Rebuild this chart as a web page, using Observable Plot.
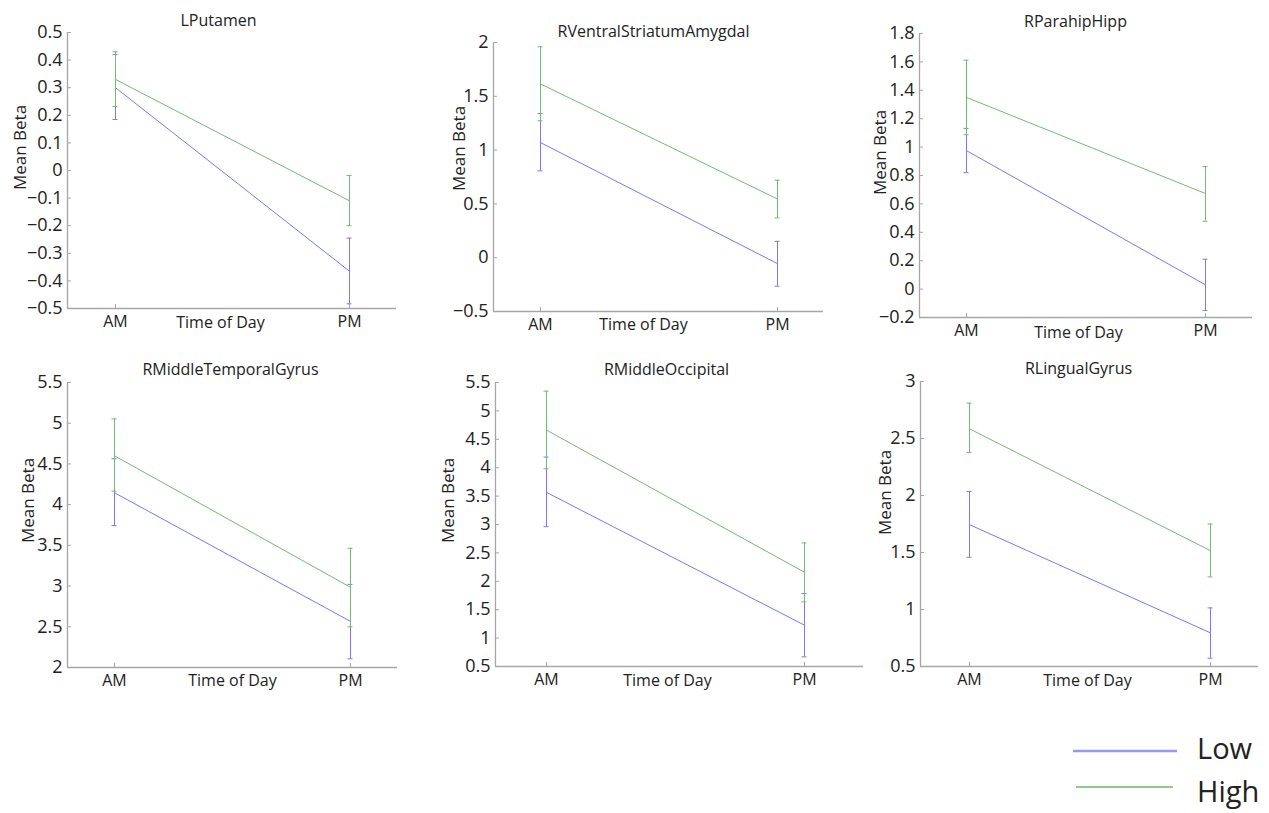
<!DOCTYPE html>
<html>
<head>
<meta charset="utf-8">
<script src="https://cdn.jsdelivr.net/npm/d3@7"></script>
<script src="https://cdn.jsdelivr.net/npm/@observablehq/plot@0.6"></script>
<style>
  html, body { margin: 0; padding: 0; background: #fff; }
  #page { position: relative; width: 1269px; height: 813px; font-family: "Open Sans", sans-serif; color: #222; overflow: hidden; }
  #page > svg, #page > figure { position: absolute; margin: 0; }
</style>
</head>
<body>
<div id="page"></div>
<script>
// ---------- data ----------
const regions = ["LPutamen", "RVentralStriatumAmygdal", "RParahipHipp", "RMiddleTemporalGyrus", "RMiddleOccipital", "RLingualGyrus"];
const times = ["AM", "PM"];
const groups = ["Low", "High"];

const lowMean  = [[0.30, -0.365], [1.07, -0.055], [0.975, 0.03], [4.146, 2.566], [3.566, 1.227], [1.744, 0.795]];
const lowUpper = [[0.42, -0.245], [1.34, 0.152], [1.132, 0.21], [4.564, 3.021], [4.187, 1.784], [2.036, 1.014]];
const lowLower = [[0.185, -0.483], [0.807, -0.265], [0.82, -0.15], [3.744, 2.107], [2.962, 0.67], [1.458, 0.573]];

const highMean  = [[0.33, -0.11], [1.615, 0.545], [1.35, 0.673], [4.60, 2.985], [4.662, 2.159], [2.585, 1.516]];
const highUpper = [[0.43, -0.018], [1.96, 0.72], [1.612, 0.863], [5.053, 3.464], [5.348, 2.675], [2.81, 1.75]];
const highLower = [[0.232, -0.20], [1.273, 0.37], [1.087, 0.478], [4.166, 2.50], [3.982, 1.637], [2.378, 1.286]];

const yDomains = [[-0.5, 0.5], [-0.5, 2], [-0.2, 1.8], [2, 5.5], [0.5, 5.5], [0.5, 3]];
const yTicks = [
  [-0.5, -0.4, -0.3, -0.2, -0.1, 0, 0.1, 0.2, 0.3, 0.4, 0.5],
  [-0.5, 0, 0.5, 1, 1.5, 2],
  [-0.2, 0, 0.2, 0.4, 0.6, 0.8, 1, 1.2, 1.4, 1.6, 1.8],
  [2, 2.5, 3, 3.5, 4, 4.5, 5, 5.5],
  [0.5, 1, 1.5, 2, 2.5, 3, 3.5, 4, 4.5, 5, 5.5],
  [0.5, 1, 1.5, 2, 2.5, 3]
];
const yLabel = "Mean Beta";
const xLabel = "Time of Day";

// ---------- layout (page pixel geometry) ----------
const cells = [
  {x: 0, y: 0, w: 420, h: 345}, {x: 420, y: 0, w: 446, h: 345}, {x: 866, y: 0, w: 403, h: 345},
  {x: 0, y: 345, w: 420, h: 360}, {x: 420, y: 345, w: 446, h: 360}, {x: 866, y: 345, w: 403, h: 360}
];
const frames = [
  {l: 67, r: 396, t: 32, b: 308, am: 115, pm: 349, title: [218, 20], ylab: [20, 147], xlab: [220, 322]},
  {l: 493, r: 823, t: 42, b: 311, am: 540, pm: 777, title: [653, 31], ylab: [459, 148], xlab: [643, 324]},
  {l: 919, r: 1252, t: 33, b: 317, am: 966, pm: 1205, title: [1075, 21], ylab: [880, 152], xlab: [1078, 332]},
  {l: 67, r: 397, t: 382, b: 667, am: 114, pm: 350, title: [230, 369], ylab: [28, 500], xlab: [232, 680]},
  {l: 495, r: 863, t: 382, b: 666, am: 546, pm: 804, title: [666, 369], ylab: [448, 500], xlab: [667, 680]},
  {l: 920, r: 1258, t: 381, b: 666, am: 969, pm: 1210, title: [1078, 368], ylab: [885, 492], xlab: [1087, 680]}
];

const colors = {Low: "#7a78fc", High: "#72bb72"};
const axisColor = "#a6a6a6";
const fmt = d => String(+d.toFixed(3)).replace("-", "\u2212");

const page = document.getElementById("page");

regions.forEach((name, p) => {
  const c = cells[p], f = frames[p];
  const rows = [];
  groups.forEach(g => {
    const M = g === "Low" ? lowMean : highMean;
    const U = g === "Low" ? lowUpper : highUpper;
    const L = g === "Low" ? lowLower : highLower;
    times.forEach((t, i) => rows.push({group: g, x: i + 1, mean: M[p][i], hi: U[p][i], lo: L[p][i]}));
  });
  const span = f.pm - f.am;
  const xDomain = [1 - (f.am - f.l) / span, 2 + (f.r - f.pm) / span];
  const plotW = f.r - f.l, plotH = f.b - f.t;

  const series = groups.flatMap(g => {
    const d = rows.filter(r => r.group === g);
    const col = colors[g];
    return [
      Plot.ruleX(d, {x: "x", y1: "lo", y2: "hi", stroke: col, strokeWidth: 1}),
      Plot.ruleY(d, {y: "hi", x1: "x", x2: "x", insetLeft: -2.5, insetRight: -2.5, stroke: col, strokeWidth: 1}),
      Plot.ruleY(d, {y: "lo", x1: "x", x2: "x", insetLeft: -2.5, insetRight: -2.5, stroke: col, strokeWidth: 1}),
      Plot.line(d, {x: "x", y: "mean", stroke: col, strokeWidth: 1})
    ];
  });

  const label = (txt, pos, extra = {}) => Plot.text([txt], {
    frameAnchor: "top-left", dx: pos[0] - f.l, dy: pos[1] - f.t,
    textAnchor: "middle", lineAnchor: "middle", fontSize: 16, ...extra
  });

  const chart = Plot.plot({
    width: c.w, height: c.h,
    marginLeft: f.l - c.x, marginRight: c.x + c.w - f.r,
    marginTop: f.t - c.y, marginBottom: c.y + c.h - f.b,
    style: {fontFamily: "'Open Sans', sans-serif", fontSize: "16px", color: "#222", background: "transparent", overflow: "visible"},
    x: {domain: xDomain},
    y: {domain: yDomains[p]},
    marks: [
      Plot.ruleX([xDomain[0]], {stroke: axisColor, strokeWidth: 1.3}),
      Plot.ruleY([yDomains[p][0]], {stroke: axisColor, strokeWidth: 1.3}),
      Plot.tickY(yTicks[p], {y: d => d, stroke: axisColor, insetRight: plotW - 4}),
      Plot.tickX([1, 2], {x: d => d, stroke: axisColor, insetTop: plotH - 4}),
      Plot.axisY(yTicks[p], {tickSize: 0, tickPadding: 5, tickFormat: fmt, fontSize: 18, label: null}),
      Plot.axisX([1, 2], {tickSize: 0, tickPadding: 7, tickFormat: d => times[d - 1], fontSize: 16, label: null}),
      ...series,
      label(name, f.title),
      label(yLabel, f.ylab, {rotate: -90, fontSize: 17}),
      label(xLabel, f.xlab)
    ]
  });
  chart.style.left = c.x + "px";
  chart.style.top = c.y + "px";
  page.appendChild(chart);
});

// ---------- legend ----------
const legendItems = [
  {label: "Low", x1: 1073, x2: 1177, y: 751, w: 2.4, color: "#9d94f7", ty: 749},
  {label: "High", x1: 1076, x2: 1173, y: 787, w: 1.6, color: "#6cb46c", ty: 792}
];
const lg = d3.create("svg").attr("width", 1269).attr("height", 100)
  .style("left", "0px").style("top", "713px").style("position", "absolute");
const gItems = lg.selectAll("g").data(legendItems).join("g");
gItems.append("line")
  .attr("x1", d => d.x1).attr("x2", d => d.x2)
  .attr("y1", d => d.y - 713).attr("y2", d => d.y - 713)
  .attr("stroke", d => d.color).attr("stroke-width", d => d.w);
gItems.append("text")
  .attr("x", 1197).attr("y", d => d.ty - 713).attr("dy", "0.35em")
  .attr("font-family", "'Open Sans', sans-serif").attr("font-size", 29).attr("fill", "#222")
  .text(d => d.label);
page.appendChild(lg.node());
</script>
</body>
</html>
